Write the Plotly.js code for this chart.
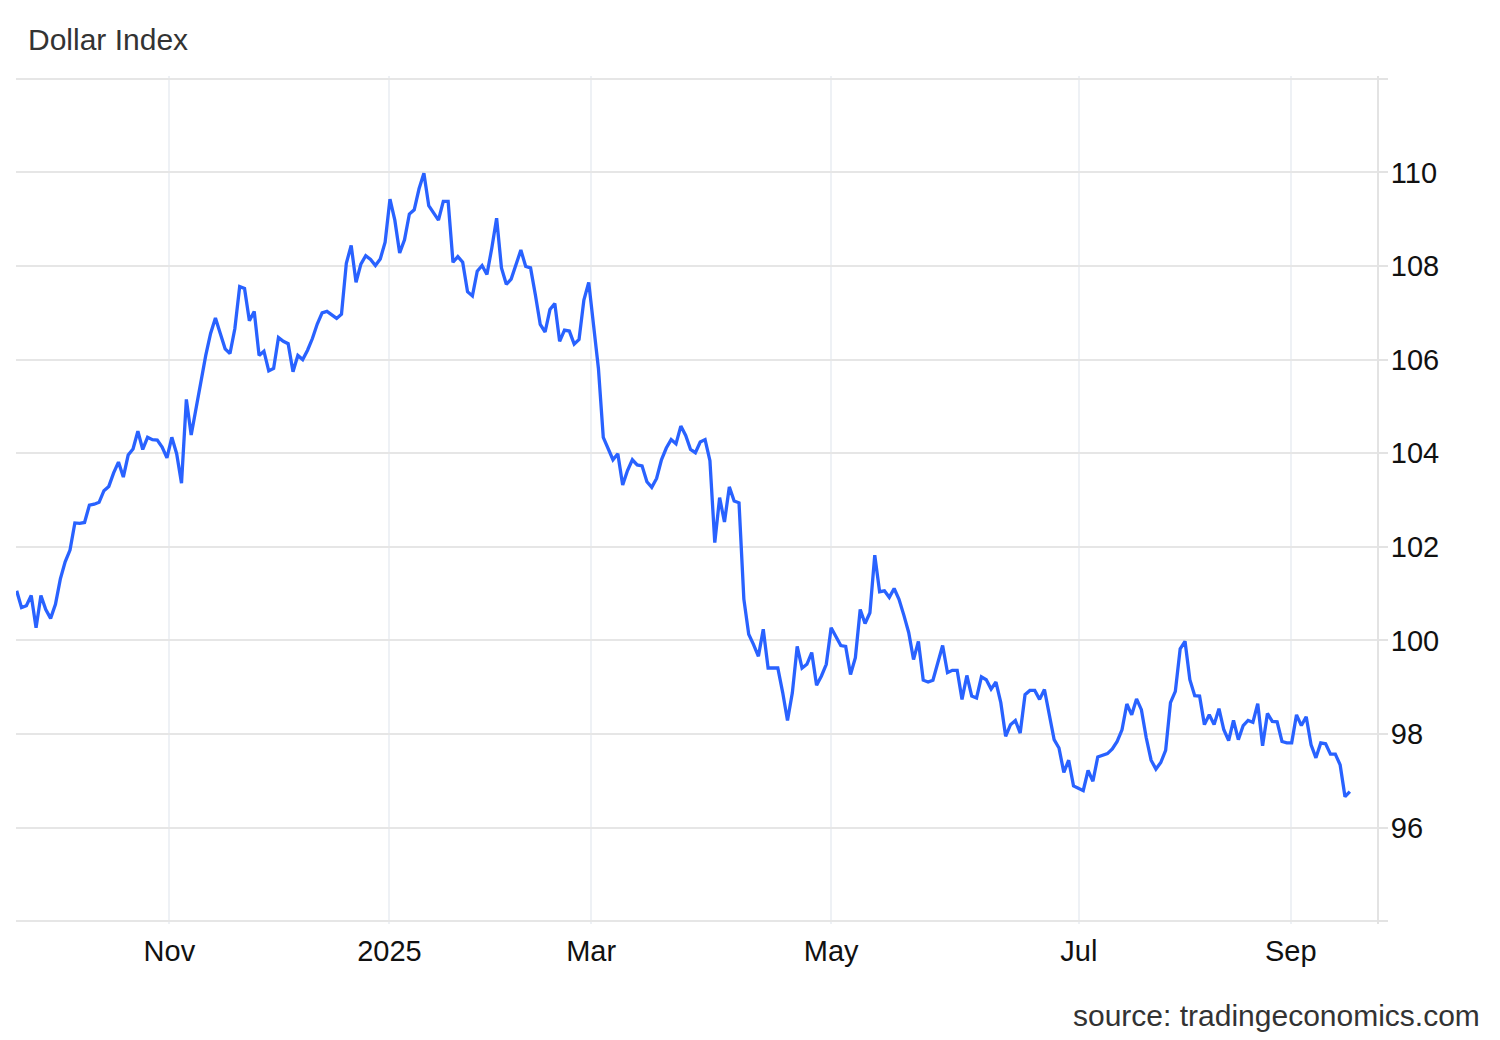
<!DOCTYPE html>
<html>
<head>
<meta charset="utf-8">
<script src="https://cdn.plot.ly/plotly-3.0.1.min.js"></script>
<style>
  html, body { margin: 0; padding: 0; background: #ffffff; }
  #chart { width: 1500px; height: 1040px; }
</style>
</head>
<body>
<div id="chart"></div>
<script>
// Dollar Index, one value per trading session (late Sep 2024 -> mid Sep 2025)
const values = [
  101.06, 100.70, 100.74, 100.96, 100.27, 100.96, 100.66, 100.47, 100.77, 101.31,
  101.68, 101.93, 102.51, 102.50, 102.52, 102.89, 102.91, 102.95, 103.20, 103.29,
  103.58, 103.81, 103.49, 103.96, 104.09, 104.47, 104.08, 104.34, 104.29, 104.28,
  104.13, 103.90, 104.34, 103.99, 103.36, 105.15, 104.39, 104.99, 105.59, 106.09,
  106.56, 106.89, 106.56, 106.23, 106.13, 106.66, 107.56, 107.52, 106.83, 107.03,
  106.09, 106.18, 105.76, 105.81, 106.47, 106.39, 106.34, 105.74, 106.09, 106.00,
  106.20, 106.45, 106.76, 107.00, 107.03, 106.95, 106.88, 106.97, 108.06, 108.44,
  107.65, 108.04, 108.22, 108.14, 108.01, 108.15, 108.51, 109.43, 108.98, 108.28,
  108.56, 109.11, 109.20, 109.65, 109.98, 109.29, 109.13, 108.98, 109.38, 109.38,
  108.08, 108.20, 108.08, 107.45, 107.36, 107.89, 108.01, 107.82, 108.38, 109.02,
  107.96, 107.61, 107.72, 108.06, 108.34, 107.99, 107.96, 107.38, 106.75, 106.59,
  107.07, 107.20, 106.39, 106.63, 106.61, 106.33, 106.43, 107.27, 107.65, 106.73,
  105.81, 104.34, 104.11, 103.86, 103.99, 103.32, 103.63, 103.86, 103.75, 103.73,
  103.39, 103.27, 103.46, 103.86, 104.11, 104.29, 104.20, 104.58, 104.38, 104.08,
  104.01, 104.24, 104.29, 103.84, 102.09, 103.05, 102.53, 103.28, 102.98, 102.94,
  100.88, 100.13,  99.91,  99.66, 100.24,  99.41,  99.41,  99.41,  98.89,  98.29,
   98.88,  99.87,  99.41,  99.49,  99.74,  99.04,  99.24,  99.49, 100.27, 100.08,
   99.89,  99.87,  99.27,  99.63, 100.66, 100.36, 100.59, 101.82, 101.04, 101.06,
  100.92, 101.11, 100.88, 100.54, 100.17,  99.59,  99.98,  99.15,  99.11,  99.15,
   99.52,  99.89,  99.31,  99.36,  99.36,  98.74,  99.25,  98.81,  98.77,  99.22,
   99.16,  98.96,  99.11,  98.67,  97.95,  98.20,  98.29,  98.02,  98.84,  98.93,
   98.93,  98.74,  98.95,  98.41,  97.88,  97.70,  97.18,  97.44,  96.89,  96.84,
   96.79,  97.22,  96.99,  97.51,  97.54,  97.58,  97.68,  97.84,  98.09,  98.64,
   98.41,  98.75,  98.52,  97.92,  97.44,  97.25,  97.39,  97.65,  98.67,  98.91,
   99.82,  99.98,  99.16,  98.82,  98.81,  98.20,  98.41,  98.20,  98.54,  98.09,
   97.86,  98.29,  97.88,  98.18,  98.29,  98.25,  98.65,  97.75,  98.44,  98.27,
   98.26,  97.84,  97.81,  97.81,  98.41,  98.18,  98.37,  97.77,  97.49,  97.81,
   97.79,  97.57,  97.57,  97.34,  96.66,  96.77
];
const sessionIdx = values.map((_, i) => i);

// month boundaries (session index) and their labels
const monthTickPos  = [31.5, 76.9, 118.5, 168.0, 219.1, 262.8];
const monthTickText = ['Nov', '2025', 'Mar', 'May', 'Jul', 'Sep'];

// value axis ticks
const yTickVals = [94, 96, 98, 100, 102, 104, 106, 108, 110, 112];
const yTickText = ['', '96', '98', '100', '102', '104', '106', '108', '110', ''];

const chartTitle = 'Dollar Index';
const sourceText = 'source: tradingeconomics.com';

const FONT = '"Liberation Sans", Arial, "DejaVu Sans", sans-serif';

const trace = {
  type: 'scatter',
  mode: 'lines',
  x: sessionIdx,
  y: values,
  line: { color: '#2962ff', width: 3.3 },
  hoverinfo: 'skip'
};

const layout = {
  width: 1500,
  height: 1040,
  margin: { l: 16, r: 123, t: 76, b: 116, pad: 0 },
  paper_bgcolor: '#ffffff',
  plot_bgcolor: '#ffffff',
  showlegend: false,
  font: { family: FONT, size: 29, color: '#111111' },
  title: {
    text: chartTitle,
    font: { family: FONT, size: 30, color: '#333333' },
    xref: 'container', x: 28 / 1500, xanchor: 'left',
    yref: 'container', y: 1 - 39 / 1040, yanchor: 'middle'
  },
  xaxis: {
    range: [-0.14, 280.6],
    tickmode: 'array',
    tickvals: monthTickPos,
    ticktext: monthTickText,
    showgrid: true,
    gridcolor: '#eef1f5',
    gridwidth: 2,
    zeroline: false,
    showline: false,
    ticks: '',
    ticklabelstandoff: 7,
    tickfont: { family: FONT, size: 29, color: '#111111' },
    fixedrange: true
  },
  yaxis: {
    side: 'right',
    range: [93.94, 112.06],
    tickmode: 'array',
    tickvals: yTickVals,
    ticktext: yTickText,
    showgrid: true,
    gridcolor: '#e6e6e6',
    gridwidth: 2,
    zeroline: false,
    showline: true,
    linecolor: '#e3e3e3',
    linewidth: 2,
    ticks: 'outside',
    ticklen: 9,
    tickwidth: 2,
    tickcolor: '#e3e3e3',
    ticklabelstandoff: -3,
    tickfont: { family: FONT, size: 29, color: '#111111' },
    fixedrange: true
  },
  annotations: [{
    text: sourceText,
    xref: 'paper', x: (1482 - 16) / 1361, xanchor: 'right',
    yref: 'paper', y: -(1016 - 924) / 848, yanchor: 'middle',
    showarrow: false,
    font: { family: FONT, size: 30, color: '#333333' }
  }]
};

Plotly.newPlot('chart', [trace], layout, { displayModeBar: false, staticPlot: true });
</script>
</body>
</html>
